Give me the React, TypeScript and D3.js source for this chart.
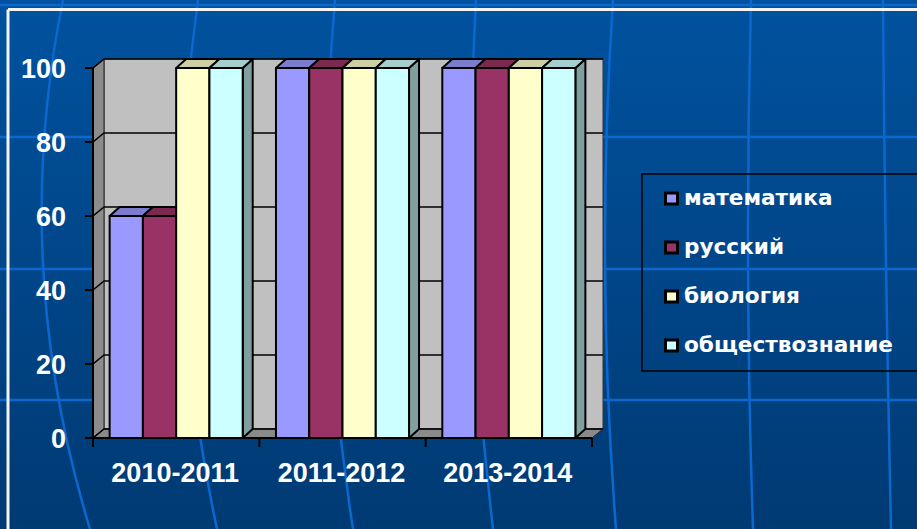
import React from "react";
import * as d3 from "d3";

const categories = ["2010-2011", "2011-2012", "2013-2014"];
const seriesNames = ["математика", "русский", "биология", "обществознание"];
const seriesColors = ["#9999ff", "#993366", "#ffffcc", "#ccffff"];
const mathValues = [60, 100, 100];
const russianValues = [60, 100, 100];
const biologyValues = [100, 100, 100];
const socialValues = [100, 100, 100];
const seriesValues = [mathValues, russianValues, biologyValues, socialValues];
const yTicks = [0, 20, 40, 60, 80, 100];

// decorative background grid (top x, middle x, bottom x)
const bgVertical = [
  [63, 43, 90],
  [198, 184, 217],
  [335, 328, 353],
  [476, 473, 493],
  [613, 605, 616],
  [751, 748, 753],
  [883, 886, 891],
];
const bgHorizontal = [5, 137, 269, 400];

const W = 917;
const H = 529;

export default function App() {
  const x0 = 93;
  const x1 = 592;
  const yBottom = 438;
  const yTop = 68;
  const dx = 11;
  const dy = -9;
  const bdx = 10;
  const bdy = -9;

  const y = d3.scaleLinear().domain([0, 100]).range([yBottom, yTop]);
  const gx = d3.scaleBand<string>().domain(categories).range([x0, x1]).padding(0);
  const gW = gx.bandwidth();
  const bw = gW / 5;
  const bx = d3
    .scaleBand<string>()
    .domain(seriesNames)
    .range([bw / 2, gW - bw / 2])
    .padding(0);

  const pts = (arr: number[][]) => arr.map((p) => p.join(",")).join(" ");

  const bars: JSX.Element[] = [];
  categories.forEach((cat, ci) => {
    seriesNames.forEach((s, si) => {
      const v = seriesValues[si][ci];
      const left = (gx(cat) as number) + (bx(s) as number);
      const right = left + bx.bandwidth();
      const top = y(v);
      const base = y(0);
      const c = d3.color(seriesColors[si])!;
      const topC = c.darker(0.6).formatHex();
      const sideC = c.darker(1.3).formatHex();
      bars.push(
        <g key={`${ci}-${si}`} stroke="#000" strokeWidth={2} strokeLinejoin="round">
          <polygon
            points={pts([
              [right, top],
              [right + bdx, top + bdy],
              [right + bdx, base + bdy],
              [right, base],
            ])}
            fill={sideC}
          />
          <polygon
            points={pts([
              [left, top],
              [left + bdx, top + bdy],
              [right + bdx, top + bdy],
              [right, top],
            ])}
            fill={topC}
          />
          <rect x={left} y={top} width={right - left} height={base - top} fill={seriesColors[si]} />
        </g>
      );
    });
  });

  return (
    <div style={{ position: "fixed", left: 0, top: 0, width: W, height: H }}>
      <svg width={W} height={H} style={{ display: "block" }}>
        <defs>
          <linearGradient id="bg" x1="0" y1="0" x2="0" y2="1">
            <stop offset="0" stopColor="#00529f" />
            <stop offset="1" stopColor="#003a73" />
          </linearGradient>
        </defs>
        <rect x={0} y={0} width={W} height={H} fill="url(#bg)" />
        {/* background decorative grid */}
        <g stroke="#0b68cf" strokeWidth={2.5} fill="none">
          {bgHorizontal.map((hy, i) => (
            <line key={i} x1={0} x2={W} y1={hy} y2={hy} />
          ))}
          {bgVertical.map((v, i) => {
            const cx = 2 * v[1] - (v[0] + v[2]) / 2;
            return <path key={i} d={`M${v[0]},0 Q${cx},265 ${v[2]},${H}`} />;
          })}
        </g>
        {/* white frame */}
        <g stroke="#f4f4f4" strokeWidth={3} fill="none">
          <line x1={8} x2={W} y1={9.5} y2={9.5} />
          <line x1={8} x2={8} y1={9.5} y2={H} />
        </g>

        {/* walls */}
        <polygon
          points={pts([
            [x0 + dx, yTop + dy],
            [x1 + dx, yTop + dy],
            [x1 + dx, yBottom + dy],
            [x0 + dx, yBottom + dy],
          ])}
          fill="#c0c0c0"
          stroke="#333"
          strokeWidth={1}
        />
        <polygon
          points={pts([
            [x0, yTop],
            [x0 + dx, yTop + dy],
            [x0 + dx, yBottom + dy],
            [x0, yBottom],
          ])}
          fill="#8c8c8c"
          stroke="#222"
          strokeWidth={1}
        />
        <polygon
          points={pts([
            [x0, yBottom],
            [x0 + dx, yBottom + dy],
            [x1 + dx, yBottom + dy],
            [x1, yBottom],
          ])}
          fill="#8a8a8a"
          stroke="#222"
          strokeWidth={1}
        />
        {/* gridlines */}
        <g stroke="#000" strokeWidth={1.6} fill="none">
          {yTicks.map((t) => (
            <polyline
              key={t}
              points={pts([
                [x0, y(t)],
                [x0 + dx, y(t) + dy],
                [x1 + dx, y(t) + dy],
              ])}
            />
          ))}
        </g>

        {bars}

        {/* axes */}
        <g stroke="#000" strokeWidth={2}>
          <line x1={x0} x2={x0} y1={yTop} y2={yBottom} />
          <line x1={x0} x2={x1} y1={yBottom} y2={yBottom} />
          {yTicks.map((t) => (
            <line key={t} x1={x0 - 8} x2={x0} y1={y(t)} y2={y(t)} />
          ))}
          {[...categories.map((c) => gx(c) as number), x1].map((tx, i) => (
            <line key={i} x1={tx} x2={tx} y1={yBottom} y2={yBottom + 9} />
          ))}
        </g>
        <g
          fill="#fff"
          fontFamily="'Liberation Sans', Arial, sans-serif"
          fontWeight="bold"
          fontSize={27}
        >
          {yTicks.map((t) => (
            <text key={t} x={66} y={y(t) + 10} textAnchor="end">
              {t}
            </text>
          ))}
          {categories.map((c) => (
            <text key={c} x={(gx(c) as number) + gW / 2 - 1} y={482} textAnchor="middle">
              {c}
            </text>
          ))}
        </g>

        {/* legend */}
        <rect x={642} y={174} width={W} height={197} fill="none" stroke="#000" strokeWidth={1.5} />
        {seriesNames.map((s, i) => (
          <g key={s}>
            <rect
              x={665.5}
              y={193 + i * 49}
              width={12}
              height={11}
              fill={seriesColors[i]}
              stroke="#000"
              strokeWidth={3}
            />
            <text
              x={684}
              y={205 + i * 49}
              fill="#fff"
              fontFamily="'DejaVu Sans', Verdana, sans-serif"
              fontWeight="bold"
              fontSize={21.6}
            >
              {s}
            </text>
          </g>
        ))}
      </svg>
    </div>
  );
}
